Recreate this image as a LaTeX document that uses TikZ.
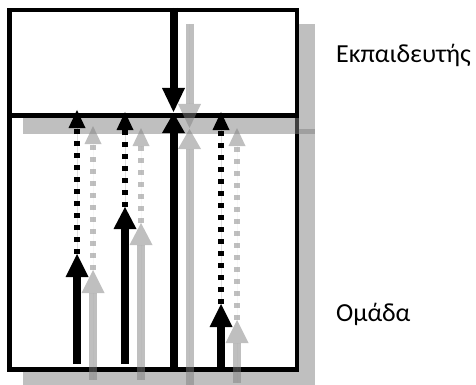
\documentclass[tikz,border=0pt]{standalone}
\usepackage{fontspec}
\setmainfont{Carlito}
\usetikzlibrary{arrows.meta}
\definecolor{shadowgray}{gray}{0.5}
\tikzset{
  boxline/.style={draw=black, line width=4.5pt, fill=white},
  boxshadow/.style={fill=shadowgray, opacity=0.5, draw=none},
  shifted/.style={transform canvas={shift={(16pt,-16pt)}}},
  mainarrow/.style={line width=8pt, -{Triangle[length=#1pt,width=23pt,line width=0pt]}},
  dotarrow/.style={line width=6pt, dash pattern=on 5pt off 7pt, -{Triangle[length=18pt,width=17pt,line width=0pt]}},
  blk/.style={draw=black, fill=black},
  shd/.style={draw=shadowgray, fill=shadowgray, opacity=0.5, shifted},
  label/.style={anchor=base west, inner sep=0pt, font=\fontsize{26}{30}\selectfont}
}
\begin{document}
\begin{tikzpicture}[x=1pt,y=-1pt]
\useasboundingbox (0,0) rectangle (476,385);
% corners
\coordinate (tl) at (9.5,10);
\coordinate (mr) at (297,115.5);
\coordinate (ml) at (9.5,115.5);
\coordinate (br) at (297,369.5);
% bottom box with shadow
\fill[boxshadow] (23.25,129.25) rectangle (315.25,387.75);
\draw[boxline] (ml) rectangle (br);
% top box with shadow
\fill[boxshadow] (23.25,23.75) rectangle (315.25,133.75);
\draw[boxline] (tl) rectangle (mr);
% central arrows
\coordinate (cb) at (173.5,369.5);
\coordinate (cup) at (173.5,113);
\coordinate (ct) at (173.5,8);
\coordinate (cdown) at (173.5,112);
\draw[mainarrow=20, shd] (cb) -- (cup);
\draw[mainarrow=20, blk] (cb) -- (cup);
\draw[mainarrow=24, shd] (ct) -- (cdown);
\draw[mainarrow=24, blk] (ct) -- (cdown);
% arrow 1
\coordinate (a1b) at (77,364);
\coordinate (a1m) at (77,254);
\coordinate (a1t) at (77,110);
\draw[mainarrow=23, shd] (a1b) -- (a1m);
\draw[dotarrow, shd] (a1m) -- (a1t);
\draw[mainarrow=23, blk] (a1b) -- (a1m);
\draw[dotarrow, blk] (a1m) -- (a1t);
% arrow 2
\coordinate (a2b) at (125,364);
\coordinate (a2m) at (125,207);
\coordinate (a2t) at (125,112);
\draw[mainarrow=22, shd] (a2b) -- (a2m);
\draw[dotarrow, shd] (a2m) -- (a2t);
\draw[mainarrow=22, blk] (a2b) -- (a2m);
\draw[dotarrow, blk] (a2m) -- (a2t);
% arrow 3
\coordinate (a3b) at (221,367);
\coordinate (a3m) at (221,304);
\coordinate (a3t) at (221,112);
\draw[mainarrow=23, shd] (a3b) -- (a3m);
\draw[dotarrow, shd] (a3m) -- (a3t);
\draw[mainarrow=23, blk] (a3b) -- (a3m);
\draw[dotarrow, blk] (a3m) -- (a3t);
% labels
\node[label] (teacher) at (336,62.3) {Εκπαιδευτής};
\node[label] (group) at (336,321.5) {Ομάδα};
\end{tikzpicture}
\end{document}
